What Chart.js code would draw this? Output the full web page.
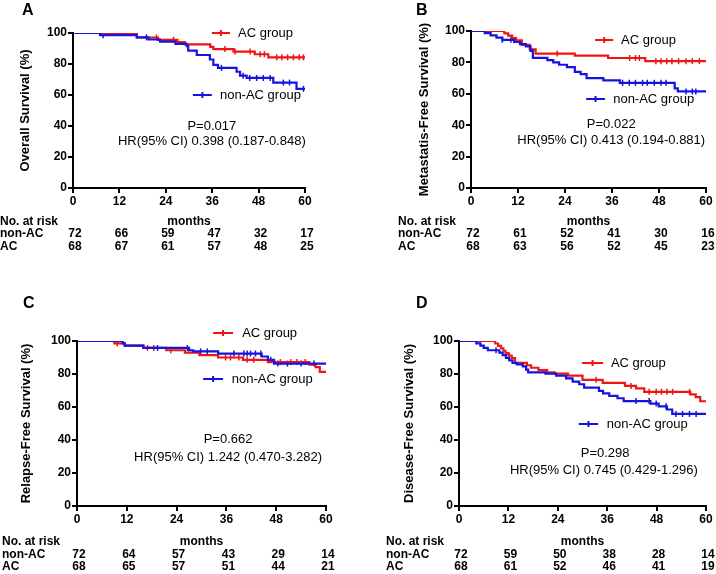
<!DOCTYPE html>
<html>
<head>
<meta charset="utf-8">
<script src="https://cdn.jsdelivr.net/npm/chart.js@4.4.0/dist/chart.umd.min.js"></script>
<style>
  html, body { margin: 0; padding: 0; background: #fff; }
  #wrap { position: relative; width: 716px; height: 574px; }
  canvas { position: absolute; }
</style>
</head>
<body>
<div id="wrap">
  <canvas id="chartA" width="358" height="287" style="left:0;top:0"></canvas>
  <canvas id="chartB" width="358" height="287" style="left:358px;top:0"></canvas>
  <canvas id="chartC" width="358" height="287" style="left:0;top:287px"></canvas>
  <canvas id="chartD" width="358" height="287" style="left:358px;top:287px"></canvas>
</div>
<script>
// x ticks (months) and y ticks (%)
const monthTicks = [0, 12, 24, 36, 48, 60];
const pctTicks = [0, 20, 40, 60, 80, 100];

// A - overall survival
const aNonAcTime = [7, 16.5, 19.5, 22.5, 26.5, 29.4, 29.8, 32, 35.4, 36.3, 37.5, 42.3, 43.2, 44.9, 51.8, 57.8];
const aNonAcSurv = [98.6, 97.2, 95.8, 94.4, 93, 91.5, 88.6, 85.8, 82.9, 79.5, 77.5, 75, 72.5, 71, 68, 64];
const aNonAcCens = [7.8, 19, 38.4, 44, 45.7, 47.5, 49.2, 51, 54.4, 56, 59.6];
const aAcTime = [16.5, 22, 27, 29, 35.5, 36.3, 41.5, 47, 50.5];
const aAcSurv = [97.1, 95.6, 94.1, 92.6, 91.1, 89.6, 88, 86.3, 84.3];
const aAcCens = [10.5, 12.5, 14.5, 21.6, 26, 39.3, 41.9, 45.8, 48.4, 49.5, 52.7, 54, 55.5, 57, 58.5, 59.6];
const aRiskNonAc = [72, 66, 59, 47, 32, 17];
const aRiskAc = [68, 67, 61, 57, 48, 25];

// B - metastasis-free survival
const bNonAcTime = [3.5, 5, 6.5, 8, 11, 12.5, 14, 15.2, 15.8, 19.5, 21, 22.5, 24.5, 26.5, 28, 29.5, 33.8, 38, 52, 52.8];
const bNonAcSurv = [98.6, 97.2, 95.8, 94.4, 93, 91.6, 90.2, 87.3, 82.9, 81.5, 80, 78.5, 77, 74, 72.5, 70, 68.5, 67, 63.5, 61.5];
const bNonAcCens = [8, 10.2, 38.7, 40.4, 42, 43.8, 45, 46.8, 48.5, 49.8, 54.9, 56.5, 57.4];
const bAcTime = [8.5, 9.5, 10.5, 11.5, 13, 15, 16.5, 26.5, 35, 44.5];
const bAcSurv = [98.5, 97, 95.5, 94, 91.2, 88.3, 85.6, 84.3, 82.8, 80.8];
const bAcCens = [22, 40.5, 42, 43, 47.2, 48.5, 50, 51.3, 53, 54.9, 56.5, 58.3];
const bRiskNonAc = [72, 61, 52, 41, 30, 16];
const bRiskAc = [68, 63, 56, 52, 45, 23];

// C - relapse-free survival
const cNonAcTime = [11, 11.5, 16, 27, 28, 34, 44.5, 46, 47.5];
const cNonAcSurv = [98.6, 97.2, 95.8, 94.4, 93.7, 92.4, 90.6, 88.6, 86.3];
const cNonAcCens = [19.4, 26.6, 29.8, 31.4, 37.8, 40.2, 41, 41.8, 43, 44.3, 46.7, 48.4, 50.7, 54, 57.1];
const cAcTime = [9, 11.5, 16, 21.5, 26, 29.5, 34, 40, 46, 56, 57.5, 58.5];
const cAcSurv = [98.6, 97.2, 95.8, 94.4, 92.9, 91.5, 90, 88.6, 87.2, 85.7, 84.2, 81.3];
const cAcCens = [9.7, 17, 18.5, 22.6, 35.8, 37, 39, 41, 42.6, 49, 51.5, 53, 55];
const cRiskNonAc = [72, 64, 57, 43, 29, 14];
const cRiskAc = [68, 65, 57, 51, 44, 21];

// D - disease-free survival
const dNonAcTime = [4.2, 5.2, 6, 7, 9.8, 10.6, 11.4, 12.2, 13, 14, 15.5, 16.3, 16.8, 21, 23.6, 26, 27.6, 29.2, 30.4, 34, 35, 36.5, 38.5, 40, 46.5, 48.5, 50.5, 51.8];
const dNonAcSurv = [98.6, 97.2, 95.8, 94.4, 93, 91.5, 89.7, 88.2, 86.8, 85.8, 84.6, 82.6, 81, 80.2, 79, 77.4, 75.4, 73.8, 71.8, 69.8, 68.3, 66.8, 65.3, 63.6, 62.1, 60.4, 58.5, 55.8];
const dNonAcCens = [9, 43, 46.2, 47.9, 50.3, 52.7, 54.3, 56, 57.6];
const dAcTime = [8.8, 9.5, 10.2, 10.8, 11.3, 12, 12.8, 13.6, 16.5, 17.5, 19.3, 21.4, 23.2, 26.5, 30, 34.9, 40.3, 43, 45, 56.2, 57.5, 58.6];
const dAcSurv = [98.5, 97.1, 95.6, 94.1, 92.6, 91.2, 89.7, 86.8, 85.3, 83.8, 82.4, 81, 80.2, 79, 76.5, 74.6, 72.8, 71.3, 69.2, 67.7, 66, 63.5];
const dAcCens = [12.2, 33.3, 41.8, 46.2, 47.9, 49.2, 50.5, 51.9, 56];
const dRiskNonAc = [72, 59, 50, 38, 28, 14];
const dRiskAc = [68, 61, 52, 46, 41, 19];

const yTitles = ['Overall Survival (%)', 'Metastatis-Free Survival (%)', 'Relapse-Free Survival (%)', 'Disease-Free Survival (%)'];
const pTexts = ['P=0.017', 'P=0.022', 'P=0.662', 'P=0.298'];
const hrTexts = ['HR(95% CI) 0.398 (0.187-0.848)', 'HR(95% CI) 0.413 (0.194-0.881)', 'HR(95% CI) 1.242 (0.470-3.282)', 'HR(95% CI) 0.745 (0.429-1.296)'];

const RED = '#f01414';
const BLUE = '#1414e0';
const FONT = '"Liberation Sans", Arial, sans-serif';

function kmPoints(times, surv) {
    const pts = [{x: 0, y: 100}];
    times.forEach((t, i) => pts.push({x: t, y: surv[i]}));
    pts.push({x: 60, y: surv[surv.length - 1]});
    return pts;
}

function censorPoints(times, surv, cens) {
    return cens.map(t => {
        let s = 100;
        times.forEach((tt, i) => { if (tt <= t) s = surv[i]; });
        return {x: t, y: s};
    });
}

function drawLegend(ctx, xs, ys, leg, text, color) {
    const x1 = xs.getPixelForValue(leg.x1), x2 = xs.getPixelForValue(leg.x2);
    const py = ys.getPixelForValue(leg.y);
    ctx.strokeStyle = color;
    ctx.lineWidth = 2;
    ctx.beginPath();
    ctx.moveTo(x1, py); ctx.lineTo(x2, py);
    const mid = (x1 + x2) / 2;
    ctx.moveTo(mid, py - 3); ctx.lineTo(mid, py + 3);
    ctx.stroke();
    ctx.fillStyle = '#000';
    ctx.font = '13px ' + FONT;
    ctx.textAlign = 'left';
    ctx.textBaseline = 'middle';
    ctx.fillText(text, xs.getPixelForValue(leg.tx), py);
}

const kmExtras = {
    id: 'kmExtras',
    afterDraw(chart, args, o) {
        const ctx = chart.ctx;
        const xs = chart.scales.x, ys = chart.scales.y;
        const bottom = chart.chartArea.bottom;
        ctx.save();
        // panel letter
        ctx.fillStyle = '#000';
        ctx.font = 'bold 16px ' + FONT;
        ctx.textAlign = 'left';
        ctx.textBaseline = 'middle';
        ctx.fillText(o.letter, o.letterX, o.letterY);

        drawLegend(ctx, xs, ys, o.legAc, 'AC group', RED);
        drawLegend(ctx, xs, ys, o.legNon, 'non-AC group', BLUE);

        // p value and hazard ratio
        ctx.fillStyle = '#000';
        ctx.font = '13px ' + FONT;
        ctx.textAlign = 'center';
        ctx.fillText(o.p, xs.getPixelForValue(o.pPos.x), ys.getPixelForValue(o.pPos.y));
        ctx.fillText(o.hr, xs.getPixelForValue(o.hrPos.x), ys.getPixelForValue(o.hrPos.y));

        // numbers at risk
        ctx.font = 'bold 12px ' + FONT;
        ctx.textAlign = 'left';
        ctx.fillText('No. at risk', o.labelX, bottom + o.rowY[0]);
        ctx.fillText('non-AC', o.labelX, bottom + o.rowY[1]);
        ctx.fillText('AC', o.labelX, bottom + o.rowY[2]);
        ctx.textAlign = 'center';
        monthTicks.forEach((m, i) => {
            const px = xs.getPixelForValue(m) + 2;
            ctx.fillText(String(o.riskNon[i]), px, bottom + o.rowY[1]);
            ctx.fillText(String(o.riskAc[i]), px, bottom + o.rowY[2]);
        });
        ctx.restore();
    }
};

function makeChart(id, nonT, nonS, nonC, acT, acS, acC, cfg) {
    const ctx = document.getElementById(id);
    return new Chart(ctx, {
        type: 'line',
        data: {
            datasets: [
                { data: kmPoints(nonT, nonS), borderColor: BLUE, borderWidth: 2.2, stepped: 'before', pointRadius: 0, fill: false },
                { data: kmPoints(acT, acS), borderColor: RED, borderWidth: 2.2, stepped: 'before', pointRadius: 0, fill: false },
                { data: censorPoints(nonT, nonS, nonC), showLine: false, pointStyle: 'line', rotation: 90,
                  pointRadius: 3, pointBorderWidth: 1.5, pointBorderColor: BLUE, borderColor: BLUE },
                { data: censorPoints(acT, acS, acC), showLine: false, pointStyle: 'line', rotation: 90,
                  pointRadius: 3, pointBorderWidth: 1.5, pointBorderColor: RED, borderColor: RED }
            ]
        },
        options: {
            responsive: false,
            animation: false,
            events: [],
            layout: { padding: { left: 0, top: cfg.padTop, right: cfg.padRight, bottom: 0 } },
            plugins: {
                legend: { display: false },
                tooltip: { enabled: false },
                kmExtras: cfg.extras
            },
            scales: {
                x: {
                    type: 'linear',
                    min: 0,
                    max: 60,
                    afterBuildTicks: s => { s.ticks = monthTicks.map(v => ({value: v})); },
                    afterFit: s => { s.height = cfg.xAxisH; },
                    ticks: { color: '#000', font: { family: FONT, weight: 'bold', size: 12 }, padding: 1, maxRotation: 0, autoSkip: false },
                    grid: { drawOnChartArea: false, drawTicks: true, tickLength: 5, color: '#000', lineWidth: 2 },
                    border: { color: '#000', width: 2 },
                    title: { display: true, text: 'months', color: '#000', font: { family: FONT, weight: 'bold', size: 12 },
                             padding: { top: 0, bottom: cfg.monthsPad } }
                },
                y: {
                    min: 0,
                    max: 100,
                    afterBuildTicks: s => { s.ticks = pctTicks.map(v => ({value: v})); },
                    afterFit: s => { s.width = cfg.yAxisW; },
                    ticks: { color: '#000', font: { family: FONT, weight: 'bold', size: 12 }, padding: 1 },
                    grid: { drawOnChartArea: false, drawTicks: true, tickLength: 5, color: '#000', lineWidth: 2 },
                    border: { color: '#000', width: 2 },
                    title: { display: true, text: cfg.yTitle, color: '#000', font: { family: FONT, weight: 'bold', size: 13 },
                             padding: { top: cfg.yTitlePad, bottom: 0 } }
                }
            }
        },
        plugins: [kmExtras]
    });
}

makeChart('chartA', aNonAcTime, aNonAcSurv, aNonAcCens, aAcTime, aAcSurv, aAcCens, {
    padTop: 33, padRight: 53, xAxisH: 99, yAxisW: 73, yTitlePad: 18, monthsPad: 58, yTitle: yTitles[0],
    extras: {
        letter: 'A', letterX: 22, letterY: 11, labelX: 0, rowY: [34, 46, 59],
        legAc: {x1: 35.9, x2: 40.6, y: 100, tx: 42.7}, legNon: {x1: 31, x2: 35.9, y: 60, tx: 38},
        pPos: {x: 35.9, y: 40}, hrPos: {x: 35.9, y: 30.3},
        p: pTexts[0], hr: hrTexts[0], riskNon: aRiskNonAc, riskAc: aRiskAc
    }
});

makeChart('chartB', bNonAcTime, bNonAcSurv, bNonAcCens, bAcTime, bAcSurv, bAcCens, {
    padTop: 31, padRight: 10, xAxisH: 99, yAxisW: 113, yTitlePad: 59, monthsPad: 58, yTitle: yTitles[1],
    extras: {
        letter: 'B', letterX: 58, letterY: 11, labelX: 40, rowY: [34, 46, 59],
        legAc: {x1: 31.7, x2: 36.3, y: 94.3, tx: 38.3}, legNon: {x1: 29.4, x2: 34.2, y: 56.7, tx: 36.3},
        pPos: {x: 35.8, y: 40.8}, hrPos: {x: 35.8, y: 30.6},
        p: pTexts[1], hr: hrTexts[1], riskNon: bRiskNonAc, riskAc: bRiskAc
    }
});

makeChart('chartC', cNonAcTime, cNonAcSurv, cNonAcCens, cAcTime, cAcSurv, cAcCens, {
    padTop: 54, padRight: 32, xAxisH: 68, yAxisW: 77, yTitlePad: 19, monthsPad: 25, yTitle: yTitles[2],
    extras: {
        letter: 'C', letterX: 23, letterY: 17, labelX: 2, rowY: [36, 49, 61],
        legAc: {x1: 32.8, x2: 37.6, y: 104.8, tx: 39.8}, legNon: {x1: 30.4, x2: 35.2, y: 77, tx: 37.3},
        pPos: {x: 36.4, y: 40.6}, hrPos: {x: 36.4, y: 29.7},
        p: pTexts[2], hr: hrTexts[2], riskNon: cRiskNonAc, riskAc: cRiskAc
    }
});

makeChart('chartD', dNonAcTime, dNonAcSurv, dNonAcCens, dAcTime, dAcSurv, dAcCens, {
    padTop: 54, padRight: 10, xAxisH: 68, yAxisW: 101, yTitlePad: 44, monthsPad: 25, yTitle: yTitles[3],
    extras: {
        letter: 'D', letterX: 58, letterY: 17, labelX: 28, rowY: [36, 49, 61],
        legAc: {x1: 29.9, x2: 35, y: 86.7, tx: 36.9}, legNon: {x1: 29.1, x2: 33.8, y: 49.7, tx: 35.9},
        pPos: {x: 35.5, y: 32}, hrPos: {x: 35.2, y: 21.8},
        p: pTexts[3], hr: hrTexts[3], riskNon: dRiskNonAc, riskAc: dRiskAc
    }
});
</script>
</body>
</html>
